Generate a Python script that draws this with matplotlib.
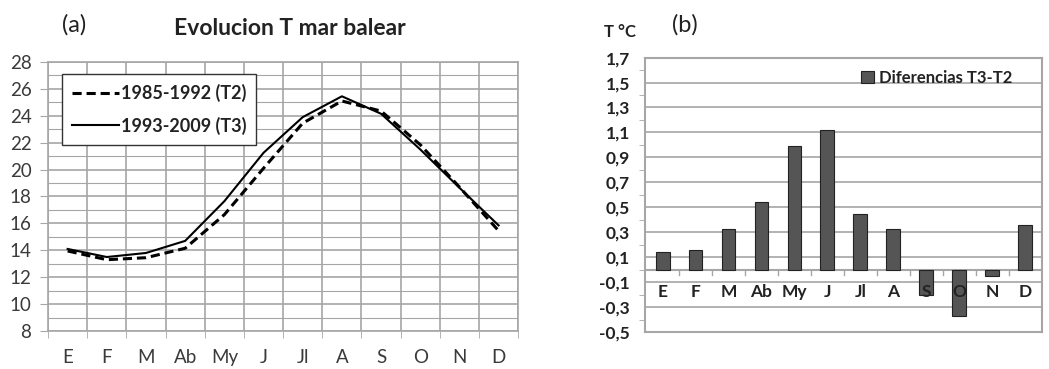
import matplotlib
matplotlib.use('Agg')
import matplotlib.pyplot as plt
import numpy as np
from matplotlib.ticker import MultipleLocator, FuncFormatter

meses = ['E', 'F', 'M', 'Ab', 'My', 'J', 'Jl', 'A', 'S', 'O', 'N', 'D']
t2 = [13.95, 13.3, 13.45, 14.15, 16.65, 20.1, 23.45, 25.1, 24.35, 21.85, 18.7, 15.45]
t3 = [14.1, 13.5, 13.8, 14.7, 17.65, 21.25, 23.9, 25.45, 24.15, 21.5, 18.65, 15.85]
dif = [0.14, 0.16, 0.33, 0.54, 0.99, 1.12, 0.45, 0.33, -0.2, -0.37, -0.05, 0.36]

plt.rcParams['font.family'] = ['Lato', 'DejaVu Sans']
grid_c = '#a6a6a6'
txt_c = '#3a3a3a'

fig = plt.figure(figsize=(10.49, 3.69), dpi=100)

# (a) evolucion temperatura
ax = fig.add_axes([0.0458, 0.103, 0.4482, 0.729])
x = np.arange(len(meses))
ax.plot(x, t2, color='black', lw=2.2, ls=(0, (3, 1.6)), label='1985-1992 (T2)', zorder=3)
ax.plot(x, t3, color='black', lw=1.5, label='1993-2009 (T3)', zorder=4)
ax.set_xlim(-0.47, 11.5)
ax.set_ylim(8, 28)
ax.yaxis.set_major_locator(MultipleLocator(2))
ax.yaxis.set_minor_locator(MultipleLocator(1))
ax.set_xticks(x)
ax.set_xticklabels(meses)
ax.set_xticks(np.arange(-0.5, 12, 1), minor=True)
ax.grid(True, which='major', axis='y', color=grid_c, lw=1.2)
ax.grid(True, which='minor', axis='y', color=grid_c, lw=0.8)
ax.grid(True, which='minor', axis='x', color=grid_c, lw=1.2)
ax.tick_params(axis='x', which='major', length=0, pad=13, labelsize=13.5, colors=txt_c)
ax.tick_params(axis='x', which='minor', length=5, color=grid_c)
ax.tick_params(axis='y', which='major', length=6, color=grid_c, labelsize=13.5, labelcolor=txt_c, pad=6)
ax.tick_params(axis='y', which='minor', length=0)
for s in ax.spines.values():
    s.set_color(grid_c)
    s.set_linewidth(1.2)
leg = ax.legend(loc='upper left', bbox_to_anchor=(0.03, 0.955), borderaxespad=0,
                fancybox=False, framealpha=1, edgecolor='#333333', fontsize=13,
                handlelength=2.6, handletextpad=0.1, labelspacing=0.8, borderpad=0.55)
for t in leg.get_texts():
    t.set_color('#222222')
    t.set_fontweight('bold')
fig.text(0.059, 0.915, '(a)', fontsize=17, color='#222222')
fig.text(0.276, 0.905, 'Evolucion T mar balear', fontsize=16.5, fontweight='bold',
         color='#222222', ha='center')

# (b) diferencias
bx = fig.add_axes([0.615, 0.100, 0.378, 0.744])
bx.bar(x, dif, width=0.42, color='#555555', edgecolor='#222222', lw=0.8,
       label='Diferencias T3-T2', zorder=3)
bx.set_xlim(-0.53, 11.5)
bx.set_ylim(-0.5, 1.7)
bx.set_yticks(np.arange(-0.5, 1.71, 0.2))
bx.yaxis.set_minor_locator(MultipleLocator(0.1))
bx.yaxis.set_major_formatter(FuncFormatter(lambda v, p: ('%.1f' % v).replace('.', ',')))
bx.grid(True, which='major', axis='y', color=grid_c, lw=1.2, zorder=0)
bx.axhline(0, color=grid_c, lw=1.5, zorder=2)
bx.set_xticks([])
for i, m in enumerate(meses):
    bx.text(i, -0.18, m, ha='center', va='center', fontsize=12.5, fontweight='bold',
            color='#222222', zorder=5)
for b in np.arange(0.5, 11, 1):
    bx.plot([b, b], [0, -0.04], color=grid_c, lw=1, zorder=2)
bx.tick_params(axis='y', which='major', length=0, labelsize=12.5, pad=11)
bx.tick_params(axis='y', which='minor', length=4, color=grid_c)
for l in bx.get_yticklabels():
    l.set_fontweight('bold')
    l.set_color('#222222')
for s in bx.spines.values():
    s.set_color(grid_c)
    s.set_linewidth(1.5)
bl = bx.legend(loc='upper right', bbox_to_anchor=(0.965, 1.01), frameon=False,
               fontsize=12, handlelength=0.8, handleheight=0.8, handletextpad=0.3)
for t in bl.get_texts():
    t.set_fontweight('bold')
    t.set_color('#222222')
fig.text(0.576, 0.9, 'T °C', fontsize=12, fontweight='bold', color='#222222', ha='left')
fig.text(0.641, 0.915, '(b)', fontsize=17, color='#222222')

fig.savefig('out.png', dpi=100)
